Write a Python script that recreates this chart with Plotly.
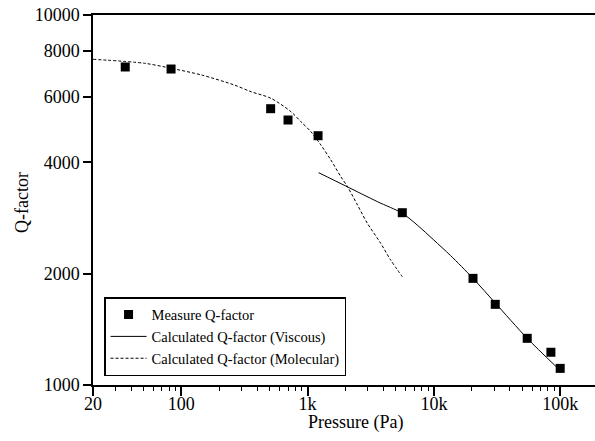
import plotly.graph_objects as go
import numpy as np

# Measured Q-factor
meas_p = [36, 83, 510, 700, 1210, 5620, 20400, 30600, 54800, 84400, 100000]
meas_q = [7236, 7145, 5582, 5202, 4718, 2922, 1942, 1652, 1337, 1226, 1109]

# Calculated Q-factor (Viscous)
visc_p = [1222, 2005, 3568, 5620, 7380, 9970, 13520, 20400, 30600, 54800, 93960]
visc_q = [3749, 3450, 3130, 2912, 2706, 2466, 2239, 1942, 1666, 1337, 1117]

# Calculated Q-factor (Molecular)
mol_p = [20, 51, 83, 144, 262, 357, 513, 738, 885, 1062, 1274, 1528, 1833, 2070, 2483, 2975, 3789, 4540, 5620]
mol_q = [7591, 7406, 7178, 6887, 6471, 6203, 5955, 5479, 5148, 4838, 4454, 4057, 3656, 3436, 3066, 2735, 2416, 2178, 1962]

x_tickvals = [20, 100, 1000, 10000, 100000]
x_ticktext = ["20", "100", "1k", "10k", "100k"]
y_tickvals = [1000, 2000, 4000, 6000, 8000, 10000]
y_ticktext = ["1000", "2000", "4000", "6000", "8000", "10000"]

minor_vals = [m * d for d in (10, 100, 1000, 10000) for m in range(2, 10) if m * d > 20]

FONT = "Liberation Serif"

fig = go.Figure()
fig.add_trace(go.Scatter(x=meas_p, y=meas_q, mode="markers", name="Measure Q-factor",
                         marker=dict(symbol="square", size=9, color="black")))
fig.add_trace(go.Scatter(x=visc_p, y=visc_q, mode="lines", name="Calculated Q-factor (Viscous)",
                         line=dict(color="black", width=1, shape="spline", smoothing=0.8)))
fig.add_trace(go.Scatter(x=mol_p, y=mol_q, mode="lines", name="Calculated Q-factor (Molecular)",
                         line=dict(color="black", width=1, dash="3px,2px", shape="spline", smoothing=0.8)))

fig.update_layout(
    width=595, height=441,
    margin=dict(l=93, r=0, t=15, b=56),
    plot_bgcolor="white", paper_bgcolor="white",
    font=dict(family=FONT, size=18, color="black"),
    showlegend=True,
    legend=dict(x=0.022, y=0.024, xanchor="left", yanchor="bottom",
                bordercolor="black", borderwidth=1.5, bgcolor="white",
                font=dict(family=FONT, size=14.5), tracegroupgap=0, itemwidth=36),
    xaxis=dict(type="log", range=[np.log10(20), 5.2755],
               tickmode="array", tickvals=x_tickvals, ticktext=x_ticktext,
               ticks="outside", ticklen=9, tickwidth=1.5, tickcolor="black",
               ticklabelstandoff=-7,
               showline=True, linecolor="black", linewidth=1.5, mirror=True,
               showgrid=False, zeroline=False,
               minor=dict(tickmode="array", tickvals=minor_vals, ticks="outside",
                          ticklen=4, tickwidth=1, tickcolor="black", showgrid=False),
               tickfont=dict(family=FONT, size=18)),
    yaxis=dict(type="log", range=[3, 4],
               tickmode="array", tickvals=y_tickvals, ticktext=y_ticktext,
               ticks="outside", ticklen=8, tickwidth=1.5, tickcolor="black",
               showline=True, linecolor="black", linewidth=1.5, mirror=False,
               showgrid=False, zeroline=False,
               tickfont=dict(family=FONT, size=18)),
    annotations=[
        dict(text="Pressure (Pa)", xref="paper", yref="paper", x=0.522, y=-0.1,
             xanchor="center", yanchor="middle", showarrow=False,
             font=dict(family=FONT, size=18)),
        dict(text="Q-factor", xref="paper", yref="paper", x=-0.1414, y=0.492,
             xanchor="center", yanchor="middle", showarrow=False, textangle=-90,
             font=dict(family=FONT, size=18)),
    ],
)

fig.write_html("out.html")
